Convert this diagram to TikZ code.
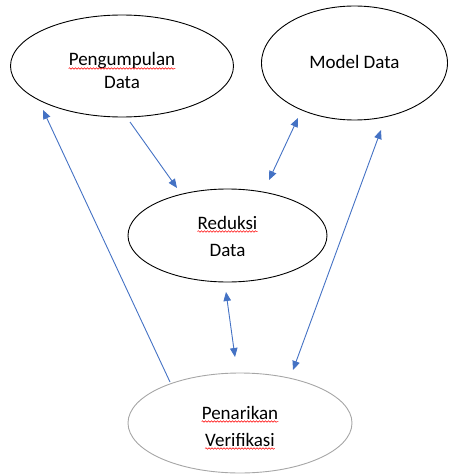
\documentclass[tikz,border=0pt]{standalone}
\usepackage{fontspec}
\setmainfont{Carlito}
\usetikzlibrary{shapes.geometric,arrows.meta,decorations.pathmorphing}
\definecolor{arrowblue}{HTML}{4472C4}
\definecolor{softgray}{HTML}{A6A6A6}
\begin{document}
\begin{tikzpicture}[x=1pt,y=-1pt,
  bubble/.style={ellipse, draw=black, line width=0.9pt, inner sep=0pt},
  graybubble/.style={ellipse, draw=softgray, line width=0.9pt, inner sep=0pt},
  label/.style={inner sep=0pt, font=\fontsize{19}{23}\selectfont, anchor=base},
  flow/.style={draw=arrowblue, line width=0.9pt, -{Triangle[length=9pt,width=7.5pt]}},
  flowboth/.style={draw=arrowblue, line width=0.9pt, {Triangle[length=9pt,width=7.5pt]}-{Triangle[length=9pt,width=7.5pt]}},
  squiggle/.style={draw=red, line width=0.5pt, decorate, decoration={snake, amplitude=0.8pt, segment length=3pt}}
]
\useasboundingbox (0,0) rectangle (448,476);

% ellipses
\node[bubble, minimum width=223pt, minimum height=102pt] (peng) at (122,66) {};
\node[bubble, minimum width=186pt, minimum height=114pt] (model) at (354.5,63) {};
\node[bubble, minimum width=199pt, minimum height=93pt] (redu) at (227.5,235.5) {};
\node[graybubble, minimum width=224pt, minimum height=100pt] (pena) at (240,423) {};

% texts
\node[label] (t1) at (122,66) {Pengumpulan};
\node[label] (t2) at (122,89) {Data};
\node[label] (t3) at (354.5,69) {Model Data};
\node[label] (t4) at (227.5,229) {Reduksi};
\node[label] (t5) at (227.5,256) {Data};
\node[label] (t6) at (240,419) {Penarikan};
\node[label] (t7) at (240,446) {Verifikasi};

% spell-check underlines
\draw[squiggle] ([yshift=-2.5pt]t1.base west) -- ([yshift=-2.5pt]t1.base east);
\draw[squiggle] ([yshift=-2.5pt]t4.base west) -- ([yshift=-2.5pt]t4.base east);
\draw[squiggle] ([yshift=-2.5pt]t6.base west) -- ([yshift=-2.5pt]t6.base east);
\draw[squiggle] ([yshift=-2.5pt]t7.base west) -- ([yshift=-2.5pt]t7.base east);

% connector ends
\coordinate (a1s) at (170,382);
\coordinate (a1e) at (43,110);
\coordinate (a2s) at (130,122);
\coordinate (a2e) at (177,188);
\coordinate (a3s) at (269,180);
\coordinate (a3e) at (298,118);
\coordinate (a4s) at (226,292);
\coordinate (a4e) at (235,357);
\coordinate (a5s) at (381,130);
\coordinate (a5e) at (293,370);

\draw[flow] (a1s) -- (a1e);
\draw[flow] (a2s) -- (a2e);
\draw[flowboth] (a3s) -- (a3e);
\draw[flowboth] (a4s) -- (a4e);
\draw[flowboth] (a5s) -- (a5e);
\end{tikzpicture}
\end{document}
